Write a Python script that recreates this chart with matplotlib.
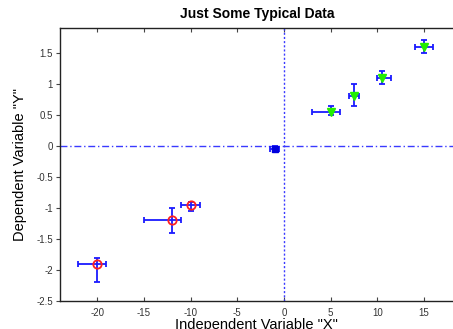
import numpy as np
import matplotlib
matplotlib.use("Agg")
import matplotlib.pyplot as plt

plt.rcParams['font.family'] = ['Liberation Sans', 'DejaVu Sans']

# -------------------- data --------------------
# negative group (red open circles)
neg_x = [-20, -12, -10]
neg_y = [-1.9, -1.2, -0.95]
neg_xlo = [-22, -15, -11]
neg_xhi = [-19, -11, -9]
neg_ylo = [-2.2, -1.4, -1.05]
neg_yhi = [-1.8, -1.0, -0.9]

# near-zero point (blue)
mid_x = [-1]
mid_y = [-0.05]
mid_xlo = [-1.5]
mid_xhi = [-0.5]
mid_ylo = [-0.1]
mid_yhi = [0.0]

# positive group (green down triangles)
pos_x = [5, 7.5, 10.5, 15]
pos_y = [0.55, 0.8, 1.1, 1.6]
pos_xlo = [3, 7, 10, 14]
pos_xhi = [6, 8, 11.5, 16]
pos_ylo = [0.5, 0.65, 1.0, 1.5]
pos_yhi = [0.65, 1.0, 1.2, 1.7]

xticks = [-20, -15, -10, -5, 0, 5, 10, 15]
yticks = [-2.5, -2, -1.5, -1, -0.5, 0, 0.5, 1, 1.5]
ytick_labels = ['-2.5', '-2', '-1.5', '-1', '-0.5', '0', '0.5', '1', '1.5']


def draw(ax, x, y, xlo, xhi, ylo, yhi, **mk):
    x, y = np.array(x), np.array(y)
    xerr = [x - np.array(xlo), np.array(xhi) - x]
    yerr = [y - np.array(ylo), np.array(yhi) - y]
    ax.errorbar(x, y, xerr=xerr, yerr=yerr, fmt='none', ecolor='#1a1aff',
                elinewidth=1.3, capsize=2.5, capthick=1.3, zorder=3)
    ax.plot(x, y, linestyle='none', zorder=4, **mk)


fig = plt.figure(figsize=(4.53, 3.29), dpi=100)
ax = fig.add_axes([0.132, 0.085, 0.870, 0.830])

ax.axhline(0, color='#3a3aff', lw=1.0, linestyle=(0, (5, 2, 1, 2)), zorder=2)
ax.axvline(0, color='#3a3aff', lw=1.0, linestyle=(0, (1.5, 1.5)), zorder=2)

draw(ax, neg_x, neg_y, neg_xlo, neg_xhi, neg_ylo, neg_yhi,
     marker='o', markersize=6, markerfacecolor='none',
     markeredgecolor='#ff2020', markeredgewidth=1.3)
draw(ax, mid_x, mid_y, mid_xlo, mid_xhi, mid_ylo, mid_yhi,
     marker='s', markersize=4, color='#0000dd')
draw(ax, pos_x, pos_y, pos_xlo, pos_xhi, pos_ylo, pos_yhi,
     marker='v', markersize=6, color='#22ee00', markeredgecolor='#22ee00')

ax.set_xlim(-24, 18.2)
ax.set_ylim(-2.5, 1.9)
ax.set_xticks(xticks)
ax.set_xticklabels([str(v) for v in xticks])
ax.set_yticks(yticks)
ax.set_yticklabels(ytick_labels)

ax.spines['right'].set_visible(False)
for s in ['left', 'top', 'bottom']:
    ax.spines[s].set_color('#222222')
    ax.spines[s].set_linewidth(1.0)

ax.tick_params(axis='x', direction='in', top=True, length=3, labelsize=7,
               color='#444444', labelcolor='#333333', pad=5)
ax.tick_params(axis='y', direction='out', right=False, length=3, labelsize=7,
               color='#444444', labelcolor='#333333', pad=2)

ax.set_title('Just Some Typical Data', fontsize=10, fontweight='bold', pad=7)
ax.set_xlabel('Independent Variable "X"', fontsize=10.5, labelpad=0)
ax.set_ylabel('Dependent Variable "Y"', fontsize=10.5, labelpad=7)

fig.savefig('out.png', dpi=100)
